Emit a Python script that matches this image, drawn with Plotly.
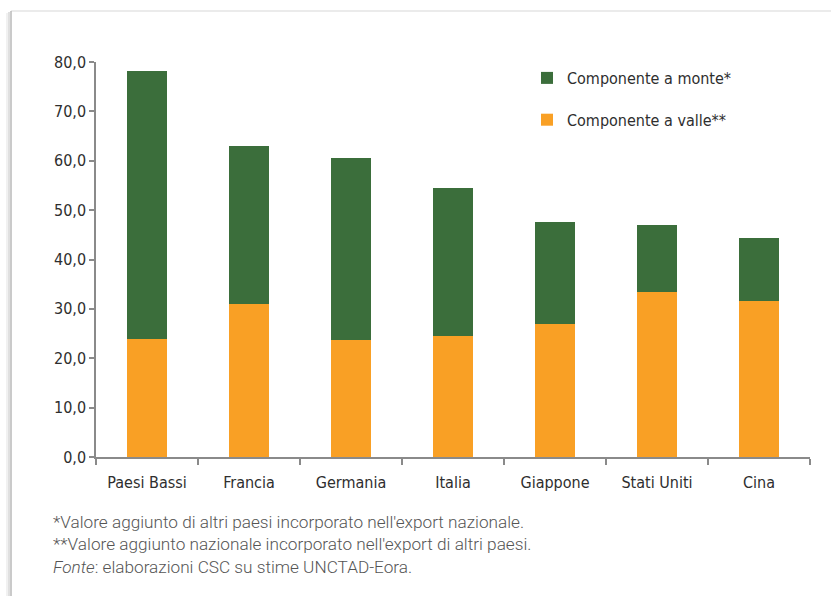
import plotly.graph_objects as go

# Paesi: componente a valle (base) e a monte (sopra), valori in %
paesi = ["Paesi Bassi", "Francia", "Germania", "Italia", "Giappone", "Stati Uniti", "Cina"]
valle = [23.8, 30.9, 23.7, 24.5, 27.0, 33.4, 31.6]
monte = [54.4, 32.0, 36.8, 29.9, 20.6, 13.5, 12.7]

VERDE = "#3b6e3b"
ARANCIO = "#f9a025"
TESTO = "#2e2e2e"
ASSE = "#8a8a8a"
FONT_COND = "DejaVu Sans Condensed, Arial Narrow, sans-serif"

W, H = 831, 596
L, R, T, B = 96, 21, 62, 139
PW, PH = W - L - R, H - T - B


def px_x(x):
    return (x - L) / PW


def px_y(y):
    return (H - B - y) / PH


fig = go.Figure()
fig.add_trace(go.Bar(
    x=paesi, y=valle, name="Componente a valle**",
    marker=dict(color=ARANCIO, line=dict(width=0)),
    legendgroup="valle", legendrank=2,
))
fig.add_trace(go.Bar(
    x=paesi, y=monte, name="Componente a monte*",
    marker=dict(color=VERDE, line=dict(width=0)),
    legendgroup="monte", legendrank=1,
))

# cornice del riquadro con leggera ombra
shapes = [
    dict(type="line", xref="paper", yref="paper",
         x0=px_x(11), x1=px_x(W + 5), y0=px_y(11), y1=px_y(11),
         line=dict(color="#e4e4e4", width=1.5), layer="below"),
]
for off, col, w in [(0, "#b8b8b8", 1.5), (-2, "#d6d6d6", 1.5), (-4, "#ececec", 1.5)]:
    shapes.append(dict(type="line", xref="paper", yref="paper",
                       x0=px_x(11 + off), x1=px_x(11 + off),
                       y0=px_y(11 - off / 2), y1=px_y(H + 5),
                       line=dict(color=col, width=w), layer="below"))

note = ("*Valore aggiunto di altri paesi incorporato nell'export nazionale.<br>"
        "**Valore aggiunto nazionale incorporato nell'export di altri paesi.<br>"
        "<i>Fonte</i>: elaborazioni CSC su stime UNCTAD-Eora.")

fig.update_layout(
    width=W, height=H,
    margin=dict(l=L, r=R, t=T, b=B, pad=0),
    paper_bgcolor="white", plot_bgcolor="white",
    barmode="stack", bargap=0.6,
    separators=",.",
    shapes=shapes,
    showlegend=True,
    legend=dict(
        x=px_x(527), y=px_y(61), xanchor="left", yanchor="top",
        traceorder="grouped", tracegroupgap=18,
        font=dict(family=FONT_COND, size=16, color=TESTO),
        bgcolor="rgba(0,0,0,0)", itemwidth=30,
    ),
    xaxis=dict(
        showline=True, linecolor=ASSE, linewidth=1.5,
        ticks="outside", ticklen=6, tickcolor=ASSE, tickwidth=1.5,
        tickson="boundaries", ticklabelstandoff=10,
        tickfont=dict(family=FONT_COND, size=16, color=TESTO),
        showgrid=False, zeroline=False, fixedrange=True,
    ),
    yaxis=dict(
        range=[0, 80], dtick=10, tickformat=".1f",
        showline=True, linecolor=ASSE, linewidth=1.5,
        ticks="outside", ticklen=5, tickcolor=ASSE, tickwidth=1.5,
        tickfont=dict(family=FONT_COND, size=16, color=TESTO),
        showgrid=False, zeroline=False, fixedrange=True,
    ),
    annotations=[dict(
        text=note, xref="paper", yref="paper",
        x=px_x(51), y=px_y(510), xanchor="left", yanchor="top",
        align="left", showarrow=False,
        font=dict(family="Roboto, sans-serif", size=17.2, color="#555555", weight=300),
    )],
)

fig.write_html("out.html", config=dict(displayModeBar=False))
